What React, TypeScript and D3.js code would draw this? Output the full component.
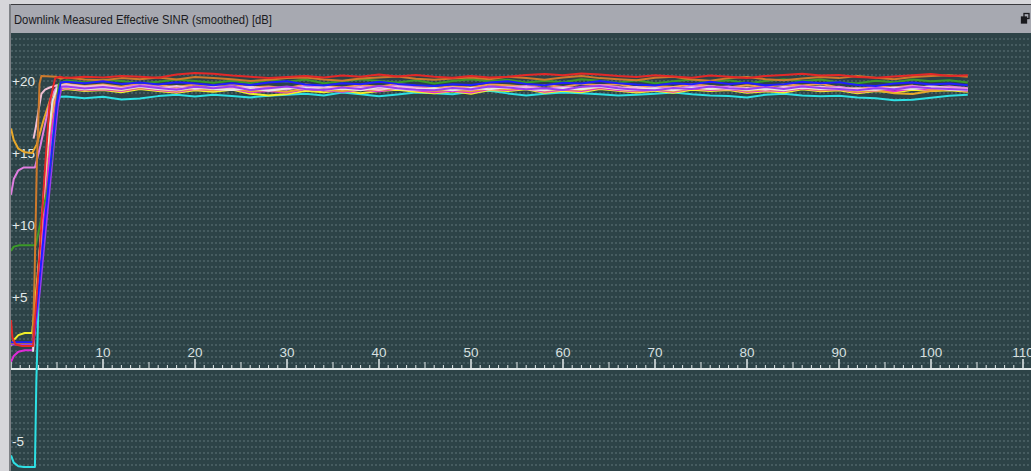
import React from "react";
import * as d3 from "d3";

const W = 1031;
const H = 471;

const X_TICK_LABELS = [10, 20, 30, 40, 50, 60, 70, 80, 90, 100, 110];
const Y_TICK_LABELS = [20, 15, 10, 5, -5];
const TITLE = "Downlink Measured Effective SINR (smoothed) [dB]";

const PLATEAU_T = [6, 8, 10, 12, 14, 16, 18, 20, 22, 24, 26, 28, 30, 32, 34, 36, 38, 40, 42, 44, 46, 48, 50, 52, 54, 56, 58, 60, 62, 64, 66, 68, 70, 72, 74, 76, 78, 80, 82, 84, 86, 88, 90, 92, 94, 96, 98, 100, 102, 104];

const RED_START_T = [0, 0.15, 0.5, 1.2, 2.4, 3.0, 3.6, 4.2, 4.8, 5.3];
const RED_START_V = [3.4, 2.2, 1.7, 1.6, 1.6, 7, 13, 18.5, 20.2, 20.3];
const RED_PLATEAU = [20.2, 20.3, 20.25, 20.35, 20.3, 20.22, 20.45, 20.55, 20.5, 20.38, 20.3, 20.2, 20.28, 20.35, 20.25, 20.38, 20.3, 20.45, 20.32, 20.42, 20.3, 20.22, 20.35, 20.25, 20.3, 20.42, 20.48, 20.4, 20.52, 20.45, 20.35, 20.28, 20.4, 20.32, 20.22, 20.38, 20.3, 20.2, 20.35, 20.42, 20.5, 20.38, 20.42, 20.28, 20.22, 20.32, 20.4, 20.48, 20.35, 20.4];

const BROWN_START_T = [0, 2.35, 2.55, 2.8, 3.1, 3.3, 4.9, 5.4];
const BROWN_START_V = [1.8, 1.8, 6, 14, 19.8, 20.35, 20.3, 20.15];
const BROWN_PLATEAU = [20.25, 20.1, 20.05, 20.2, 20.12, 20.25, 20.1, 20.28, 20.2, 20.12, 20.0, 20.08, 20.2, 20.25, 20.1, 20.02, 20.18, 20.25, 20.32, 20.15, 20.08, 20.18, 20.25, 20.12, 20.3, 20.2, 20.08, 20.25, 20.35, 20.2, 20.12, 20.05, 20.22, 20.3, 20.1, 20.02, 20.2, 20.28, 20.12, 20.05, 20.18, 20.28, 20.2, 20.35, 20.22, 20.12, 20.28, 20.35, 20.4, 20.3];

const GOLD_START_T = [0, 0.3, 0.8, 1.5, 2.3, 2.8, 3.5, 4.3, 5.0];
const GOLD_START_V = [16.7, 15.9, 15.3, 15.05, 15.0, 15.6, 17.2, 18.8, 19.5];
const GOLD_PLATEAU = [19.55, 19.4, 19.48, 19.35, 19.55, 19.42, 19.3, 19.48, 19.38, 19.52, 19.28, 19.38, 19.25, 19.48, 19.4, 19.3, 19.45, 19.35, 19.52, 19.42, 19.3, 19.4, 19.28, 19.5, 19.42, 19.55, 19.32, 19.45, 19.38, 19.58, 19.45, 19.32, 19.42, 19.3, 19.52, 19.42, 19.5, 19.3, 19.42, 19.35, 19.52, 19.4, 19.45, 19.25, 19.38, 19.15, 19.1, 19.3, 19.42, 19.38];

const VIOLET_START_T = [0, 0.3, 0.8, 1.4, 2.6, 3.2, 3.8, 4.4, 5.0];
const VIOLET_START_V = [12.1, 13.2, 13.8, 14.0, 14.0, 15.5, 17.3, 19.0, 19.6];
const VIOLET_PLATEAU = [19.7, 19.55, 19.62, 19.5, 19.72, 19.58, 19.45, 19.6, 19.52, 19.65, 19.42, 19.55, 19.4, 19.68, 19.55, 19.45, 19.6, 19.5, 19.7, 19.55, 19.42, 19.5, 19.38, 19.62, 19.55, 19.65, 19.45, 19.58, 19.5, 19.72, 19.58, 19.45, 19.55, 19.42, 19.65, 19.55, 19.62, 19.42, 19.55, 19.48, 19.65, 19.52, 19.6, 19.4, 19.55, 19.48, 19.65, 19.55, 19.62, 19.5];

const LIGHTPINK_START_T = [2.45, 2.7, 3.0, 3.3, 3.7, 4.2, 5.0];
const LIGHTPINK_START_V = [16.0, 16.8, 18.0, 19.1, 19.4, 19.55, 19.7];
const LIGHTPINK_PLATEAU = [19.75, 19.6, 19.68, 19.5, 19.62, 19.48, 19.65, 19.45, 19.58, 19.5, 19.62, 19.4, 19.55, 19.45, 19.62, 19.42, 19.55, 19.38, 19.62, 19.5, 19.4, 19.55, 19.42, 19.6, 19.5, 19.58, 19.4, 19.52, 19.45, 19.65, 19.5, 19.58, 19.4, 19.55, 19.48, 19.65, 19.45, 19.52, 19.4, 19.6, 19.5, 19.62, 19.42, 19.5, 19.38, 19.55, 19.48, 19.65, 19.5, 19.45];

const GREEN_START_T = [0, 0.3, 0.9, 2.7, 3.3, 3.9, 4.4, 4.8, 5.2];
const GREEN_START_V = [8.2, 8.5, 8.6, 8.6, 10.5, 12.3, 14.5, 17.5, 19.8];
const GREEN_PLATEAU = [20.05, 19.9, 20.1, 20.0, 19.85, 19.95, 20.1, 20.0, 19.88, 20.02, 19.85, 20.05, 19.95, 20.1, 19.85, 19.98, 20.12, 20.0, 19.9, 20.05, 19.82, 20.0, 20.12, 19.98, 20.08, 19.9, 20.02, 19.92, 20.12, 20.02, 19.88, 20.05, 19.85, 19.98, 20.1, 19.95, 20.05, 19.85, 20.0, 20.12, 19.98, 20.1, 19.9, 19.85, 20.02, 19.92, 20.1, 19.98, 20.05, 19.9];

const BLUE_START_T = [0, 2.4, 3.0, 3.8, 4.5, 5.0, 5.4];
const BLUE_START_V = [1.85, 1.85, 5.5, 11, 15.5, 18.5, 19.9];
const BLUE_PLATEAU = [19.95, 19.85, 19.98, 19.8, 19.9, 19.75, 19.92, 19.82, 19.7, 19.85, 19.72, 19.9, 19.98, 19.75, 19.68, 19.85, 19.78, 19.95, 19.8, 19.7, 19.65, 19.78, 19.72, 19.9, 19.98, 19.8, 19.7, 19.88, 19.82, 20.0, 19.85, 19.75, 19.68, 19.85, 19.78, 19.95, 19.8, 19.88, 19.7, 19.78, 19.95, 19.85, 19.92, 19.72, 19.65, 19.82, 19.9, 19.75, 19.82, 19.7];

const PURPLE_START_T = [0, 2.4, 3.1, 3.9, 4.6, 5.1, 5.5];
const PURPLE_START_V = [1.7, 1.7, 5.2, 10.5, 15.2, 18.3, 19.6];
const PURPLE_PLATEAU = [19.62, 19.48, 19.58, 19.45, 19.65, 19.52, 19.4, 19.6, 19.5, 19.62, 19.38, 19.5, 19.62, 19.45, 19.38, 19.55, 19.45, 19.65, 19.5, 19.4, 19.35, 19.52, 19.42, 19.62, 19.55, 19.42, 19.5, 19.38, 19.6, 19.65, 19.5, 19.4, 19.35, 19.52, 19.45, 19.62, 19.5, 19.42, 19.58, 19.45, 19.62, 19.52, 19.45, 19.35, 19.5, 19.42, 19.58, 19.5, 19.45, 19.4];

const ORANGE_START_T = [2.4, 2.9, 3.5, 4.1, 4.7, 5.2];
const ORANGE_START_V = [2.0, 6.0, 11.5, 16.0, 18.9, 19.7];
const ORANGE_PLATEAU = [19.8, 19.65, 19.75, 19.6, 19.82, 19.7, 19.58, 19.75, 19.68, 19.8, 19.55, 19.62, 19.5, 19.75, 19.65, 19.55, 19.7, 19.6, 19.8, 19.65, 19.52, 19.62, 19.55, 19.75, 19.7, 19.6, 19.72, 19.58, 19.8, 19.7, 19.78, 19.55, 19.65, 19.58, 19.78, 19.65, 19.55, 19.7, 19.58, 19.75, 19.68, 19.8, 19.55, 19.45, 19.62, 19.55, 19.68, 19.4, 19.55, 19.5];

const MAGENTA_START_T = [0, 0.3, 0.8, 1.5, 2.35, 3.0, 3.7, 4.4, 5.1];
const MAGENTA_START_V = [0.5, 0.9, 1.2, 1.3, 1.3, 5.5, 11.5, 16.5, 19.4];
const MAGENTA_PLATEAU = [19.5, 19.35, 19.42, 19.3, 19.52, 19.38, 19.25, 19.45, 19.35, 19.48, 19.22, 19.3, 19.2, 19.45, 19.35, 19.25, 19.4, 19.28, 19.48, 19.35, 19.22, 19.32, 19.2, 19.45, 19.38, 19.48, 19.25, 19.4, 19.3, 19.52, 19.38, 19.28, 19.4, 19.25, 19.48, 19.38, 19.45, 19.25, 19.35, 19.3, 19.48, 19.35, 19.42, 19.22, 19.35, 19.28, 19.48, 19.38, 19.42, 19.32];

const YELLOW_START_T = [0, 0.3, 0.8, 1.5, 2.3, 2.9, 3.6, 4.3, 5.0];
const YELLOW_START_V = [1.6, 2.0, 2.35, 2.5, 2.5, 6.5, 12, 17, 19.3];
const YELLOW_PLATEAU = [19.45, 19.3, 19.38, 19.22, 19.45, 19.3, 19.18, 19.35, 19.25, 19.4, 19.12, 19.0, 19.1, 19.32, 19.22, 19.35, 19.15, 19.3, 19.4, 19.25, 19.15, 19.28, 19.12, 19.38, 19.3, 19.42, 19.18, 19.32, 19.22, 19.45, 19.32, 19.2, 19.32, 19.18, 19.4, 19.3, 19.38, 19.18, 19.28, 19.2, 19.42, 19.28, 19.35, 19.15, 19.3, 19.2, 19.4, 19.3, 19.35, 19.25];

const WHITE_START_T = [2.4, 2.8, 3.3, 3.9, 4.5, 5.0];
const WHITE_START_V = [1.2, 5, 10, 15, 18.6, 19.5];
const WHITE_PLATEAU = [19.58, 19.42, 19.5, 19.4, 19.6, 19.45, 19.35, 19.55, 19.45, 19.38, 19.5, 19.32, 19.48, 19.55, 19.4, 19.48, 19.35, 19.58, 19.45, 19.38, 19.5, 19.35, 19.52, 19.42, 19.58, 19.45, 19.35, 19.5, 19.42, 19.6, 19.45, 19.38, 19.5, 19.35, 19.55, 19.45, 19.52, 19.38, 19.48, 19.35, 19.55, 19.45, 19.5, 19.35, 19.42, 19.5, 19.45, 19.55, 19.4, 19.38];

const CYAN_START_T = [0, 0.3, 0.8, 1.4, 2.6, 2.75, 3.0, 3.6, 4.2, 4.8, 5.3];
const CYAN_START_V = [-6.0, -6.5, -6.75, -6.8, -6.8, -1, 4.8, 10, 14.5, 17.8, 18.9];
const CYAN_PLATEAU = [18.92, 18.8, 18.9, 18.72, 18.78, 18.95, 19.05, 18.92, 19.05, 18.95, 18.86, 18.98, 19.05, 19.12, 19.0, 19.2, 19.08, 18.94, 19.06, 19.2, 19.15, 19.08, 19.26, 19.32, 19.14, 19.0, 19.12, 19.2, 19.15, 19.08, 19.0, 19.05, 19.12, 19.2, 19.08, 19.0, 18.95, 18.86, 19.05, 19.12, 19.0, 18.94, 18.98, 18.86, 18.8, 18.66, 18.7, 18.84, 18.98, 19.05];

const SERIES = [
  { color: "#2ee0e4", startT: CYAN_START_T, startV: CYAN_START_V, plateau: CYAN_PLATEAU },
  { color: "#f2f02a", startT: YELLOW_START_T, startV: YELLOW_START_V, plateau: YELLOW_PLATEAU },
  { color: "#e02ad8", startT: MAGENTA_START_T, startV: MAGENTA_START_V, plateau: MAGENTA_PLATEAU },
  { color: "#e8a82a", startT: GOLD_START_T, startV: GOLD_START_V, plateau: GOLD_PLATEAU },
  { color: "#f09a50", startT: ORANGE_START_T, startV: ORANGE_START_V, plateau: ORANGE_PLATEAU },
  { color: "#e07ee0", startT: VIOLET_START_T, startV: VIOLET_START_V, plateau: VIOLET_PLATEAU },
  { color: "#f0c0d4", startT: LIGHTPINK_START_T, startV: LIGHTPINK_START_V, plateau: LIGHTPINK_PLATEAU },
  { color: "#e4e4e4", startT: WHITE_START_T, startV: WHITE_START_V, plateau: WHITE_PLATEAU },
  { color: "#9a3cf0", startT: PURPLE_START_T, startV: PURPLE_START_V, plateau: PURPLE_PLATEAU },
  { color: "#3c9a28", startT: GREEN_START_T, startV: GREEN_START_V, plateau: GREEN_PLATEAU },
  { color: "#cd7a2c", startT: BROWN_START_T, startV: BROWN_START_V, plateau: BROWN_PLATEAU },
  { color: "#1e1eff", startT: BLUE_START_T, startV: BLUE_START_V, plateau: BLUE_PLATEAU },
  { color: "#e42828", startT: RED_START_T, startV: RED_START_V, plateau: RED_PLATEAU },
];

const PLOT_LEFT = 11;
const PLOT_TOP = 33;

export default function App() {
  const x = d3.scaleLinear().domain([0, 110]).range([11, 1023]);
  const y = d3.scaleLinear().domain([0, 20]).range([369, 81]);
  const axisY = y(0);

  const line = d3
    .line<[number, number]>()
    .x((d) => x(d[0]))
    .y((d) => y(d[1]));

  const gridYs: number[] = [];
  for (let gy = axisY - 6; gy > PLOT_TOP; gy -= 6) gridYs.push(gy);
  for (let gy = axisY + 6; gy < H; gy += 6) gridYs.push(gy);

  const minorTicks = d3.range(0, 112, 1);

  return (
    <svg
      width={W}
      height={H}
      style={{ position: "absolute", left: 0, top: 0, display: "block" }}
      fontFamily="'Liberation Sans', Arial, sans-serif"
    >
      <defs>
        <clipPath id="plotclip">
          <rect x={PLOT_LEFT} y={PLOT_TOP} width={W - PLOT_LEFT} height={H - PLOT_TOP} />
        </clipPath>
      </defs>
      <rect x={0} y={0} width={W} height={H} fill="#d6d6da" />
      <rect x={9} y={4} width={W - 9} height={1} fill="#3a3a3e" />
      <rect x={9} y={5} width={W - 9} height={28} fill="#a7a9b1" />
      <rect x={9} y={4} width={2} height={H - 4} fill="#7e8186" />
      <text x={14} y={24} fontSize={12.5} fill="#1a1a1e" textLength={258} lengthAdjust="spacingAndGlyphs">
        {TITLE}
      </text>
      <g fill="none" stroke="#1a1a1e" strokeWidth={1.3}>
        <rect x={1024} y={13.5} width={5} height={5} />
        <rect x={1021.5} y={17} width={5} height={6} fill="#1a1a1e" />
      </g>
      <rect x={PLOT_LEFT} y={PLOT_TOP} width={W - PLOT_LEFT} height={H - PLOT_TOP} fill="#2d4347" />
      <g clipPath="url(#plotclip)">
        {gridYs.map((gy, i) => (
          <line key={i} x1={PLOT_LEFT} x2={W} y1={gy} y2={gy} stroke="#60767a" strokeWidth={1} strokeDasharray="2,2" />
        ))}
        <line x1={PLOT_LEFT} x2={W} y1={axisY} y2={axisY} stroke="#e4eaea" strokeWidth={2} />
        {minorTicks.map((t) => {
          const h = t % 10 === 0 ? 10 : t % 5 === 0 ? 7 : 4;
          return (
            <line
              key={t}
              x1={x(t)}
              x2={x(t)}
              y1={axisY}
              y2={axisY - h}
              stroke="#e4eaea"
              strokeWidth={t % 10 === 0 ? 1.5 : 1}
            />
          );
        })}
        {X_TICK_LABELS.map((t) => (
          <text key={t} x={x(t)} y={357} fontSize={13.5} fill="#d8e0e0" textAnchor="middle">
            {t}
          </text>
        ))}
        {Y_TICK_LABELS.map((v) => (
          <text key={v} x={12} y={y(v) + 5} fontSize={13.5} fill="#e4eaea">
            {v > 0 ? `+${v}` : `${v}`}
          </text>
        ))}
        {SERIES.map((s, i) => {
          const pts: [number, number][] = [];
          s.startT.forEach((t, j) => pts.push([t, s.startV[j]]));
          PLATEAU_T.forEach((t, j) => pts.push([t, s.plateau[j]]));
          return (
            <path key={i} d={line(pts) || ""} fill="none" stroke={s.color} strokeWidth={2} strokeLinejoin="round" />
          );
        })}
      </g>
    </svg>
  );
}
